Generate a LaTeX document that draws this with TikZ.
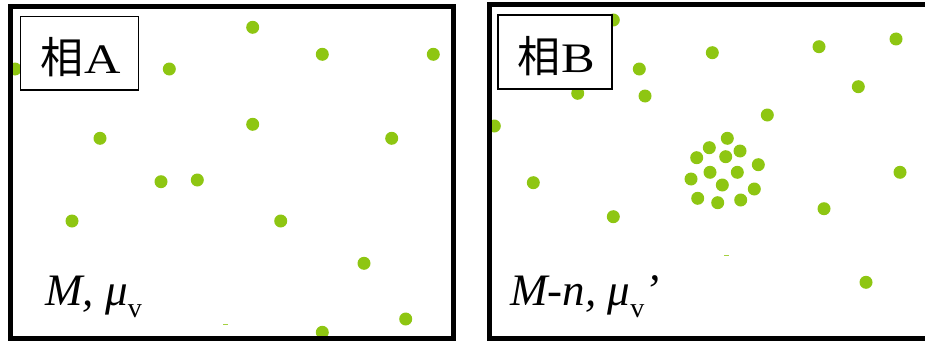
\documentclass[tikz,border=0pt]{standalone}
\usepackage{fontspec}
\usepackage{graphicx}
\setmainfont{Liberation Serif}
\newfontfamily\cjk{Noto Sans CJK JP}
\definecolor{dotgreen}{RGB}{142,198,18}
\newcommand{\phaselabel}[1]{{\cjk\fontsize{43}{43}\selectfont 相}\hspace{1pt}{\fontsize{42}{42}\selectfont\scalebox{1.2}[1]{#1}}}
\begin{document}
\begin{tikzpicture}[x=1pt,y=-1pt,
  dot/.style={circle,fill=dotgreen,inner sep=0pt,minimum size=13pt},
  frame/.style={draw=black,line width=5pt},
  labelbox/.style={draw=black,line width=1.4pt,fill=white,inner sep=0pt},
  labeltext/.style={inner sep=0pt},
  qty/.style={anchor=base west,inner sep=0pt,font=\fontsize{45}{45}\selectfont\itshape},
  speck/.style={draw=dotgreen!80,line width=1pt}]
\useasboundingbox (0,0) rectangle (925,345);
\clip (0,0) rectangle (925,345);
% phase A dots
\foreach \x/\y [count=\i] in {15/69, 252.7/27.3, 322.3/54.3, 433.3/54.3, 169.3/69, 252.7/124.3, 100/138.3, 391.7/138.3, 161/181.7, 197.3/180, 72/221, 280.7/221, 364/263.3, 405.7/319, 322.3/332.3}
  \node[dot] (a\i) at (\x,\y) {};
\draw[speck] (223,324) -- (228,324);
% phase B dots
\foreach \x/\y [count=\i] in {613.3/20, 712.3/52.7, 819/46.7, 896/39, 639.3/69, 577.7/93.3, 645/96, 858.3/86.7, 767.3/115, 494.3/126, 533.3/182.7, 613.3/216.7, 824/208.7, 900/172.3, 866/282.3}
  \node[dot] (b\i) at (\x,\y) {};
% cluster
\foreach \x/\y [count=\i] in {727.3/138.3, 709.3/147.7, 740/151, 696.7/157.7, 725.7/156.7, 758.3/164.7, 710/172.3, 737.3/172.3, 691/179, 722.3/185, 754.3/189, 697.7/198.3, 717.7/202.7, 740.7/200}
  \node[dot] (c\i) at (\x,\y) {};
\draw[speck] (724,255) -- (729,255);
% frames
\draw[frame] (10.5,6.5) rectangle (453.5,338);
\draw[frame] (489.5,5) rectangle (935,338);
% label boxes
\node[labelbox,minimum width=118pt,minimum height=73.3pt] (la) at (79.7,53.3) {};
\node[labeltext] (lat) at (81,57) {\phaselabel{A}};
\node[labelbox,minimum width=114pt,minimum height=74pt] (lb) at (555,52) {};
\node[labeltext] (lbt) at (556,56) {\phaselabel{B}};
% quantities
\node[qty] (qa) at (45,305) {M, μ\raisebox{-0.28em}{\upshape\fontsize{28}{28}\selectfont v}};
\node[qty] (qb) at (510,305) {M-n, μ\raisebox{-0.28em}{\upshape\fontsize{28}{28}\selectfont v}’};
\end{tikzpicture}
\end{document}
